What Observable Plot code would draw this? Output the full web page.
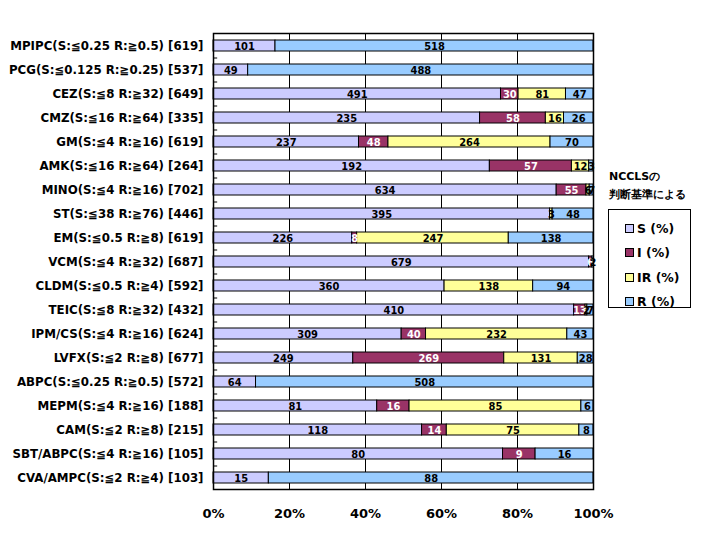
<!DOCTYPE html>
<html>
<head>
<meta charset="utf-8">
<script src="https://cdn.jsdelivr.net/npm/d3@7"></script>
<script src="https://cdn.jsdelivr.net/npm/@observablehq/plot@0.6"></script>
<style>
  body { margin: 0; background: #fff; }
  #wrap { position: relative; width: 715px; height: 534px; }
  #legend { position: absolute; left: 608px; top: 168px; font-family: "DejaVu Sans", sans-serif; font-weight: bold; }
  #legend .title { font-size: 11px; line-height: 18px; margin-left: 1px; }
  #legend .box { border: 1px solid #000; width: 83px; height: 99px; margin-top: 5px; box-sizing: border-box; padding: 6px 0 0 16px; }
  #legend .item { display: flex; align-items: center; height: 24.5px; font-size: 12.5px; }
  #legend .sw { width: 7px; height: 7px; border: 1px solid #000; margin-right: 3px; }
</style>
</head>
<body>
<div id="wrap">
  <div id="chart"></div>
  <div id="legend"></div>
</div>
<script>
const categories = [
  "MPIPC(S:≦0.25 R:≧0.5) [619]",
  "PCG(S:≦0.125 R:≧0.25) [537]",
  "CEZ(S:≦8 R:≧32) [649]",
  "CMZ(S:≦16 R:≧64) [335]",
  "GM(S:≦4 R:≧16) [619]",
  "AMK(S:≦16 R:≧64) [264]",
  "MINO(S:≦4 R:≧16) [702]",
  "ST(S:≦38 R:≧76) [446]",
  "EM(S:≦0.5 R:≧8) [619]",
  "VCM(S:≦4 R:≧32) [687]",
  "CLDM(S:≦0.5 R:≧4) [592]",
  "TEIC(S:≦8 R:≧32) [432]",
  "IPM/CS(S:≦4 R:≧16) [624]",
  "LVFX(S:≦2 R:≧8) [677]",
  "ABPC(S:≦0.25 R:≧0.5) [572]",
  "MEPM(S:≦4 R:≧16) [188]",
  "CAM(S:≦2 R:≧8) [215]",
  "SBT/ABPC(S:≦4 R:≧16) [105]",
  "CVA/AMPC(S:≦2 R:≧4) [103]"
];
const S  = [101, 49, 491, 235, 237, 192, 634, 395, 226, 679, 360, 410, 309, 249, 64, 81, 118, 80, 15];
const I  = [0, 0, 30, 58, 48, 57, 55, 0, 8, 6, 0, 13, 40, 269, 0, 16, 14, 9, 0];
const IR = [0, 0, 81, 16, 264, 12, 6, 3, 247, 0, 138, 2, 232, 131, 0, 85, 75, 0, 0];
const R  = [518, 488, 47, 26, 70, 3, 7, 48, 138, 2, 94, 7, 43, 28, 508, 6, 8, 16, 88];
const seriesNames = ["S", "I", "IR", "R"];
const legendLabels = ["S (%)", "I (%)", "IR (%)", "R (%)"];
const colors = ["#CCCCFF", "#993366", "#FFFF99", "#99CCFF"];
const xTicks = [0, 0.2, 0.4, 0.6, 0.8, 1];
const gridX = [0.2, 0.4, 0.6, 0.8];

const seriesValues = [S, I, IR, R];
const data = categories.flatMap((c, i) =>
  seriesNames.map((s, j) => ({cat: c, series: s, count: seriesValues[j][i]}))
);

const W = 715, H = 534, mT = 33, mB = 45, mL = 213, mR = 122;
const step = (H - mT - mB) / categories.length;

const chart = Plot.plot({
  width: W, height: H,
  marginTop: mT, marginBottom: mB, marginLeft: mL, marginRight: mR,
  style: {fontFamily: "DejaVu Sans, sans-serif", fontWeight: "bold", background: "white", color: "black"},
  x: {domain: [0, 1], label: null},
  y: {domain: categories, paddingInner: 0.56, paddingOuter: 0.28, label: null},
  color: {domain: seriesNames, range: colors},
  marks: [
    Plot.ruleX(gridX, {stroke: "black", strokeWidth: 1}),
    Plot.barX(data, {
      filter: d => d.count > 0,
      x: "count", y: "cat", fill: "series", stroke: "black", strokeWidth: 1,
      offset: "normalize", order: seriesNames
    }),
    Plot.text(data, Plot.stackX({
      filter: d => d.count > 0,
      x: "count", y: "cat", z: "series",
      offset: "normalize", order: seriesNames,
      text: "count",
      fill: d => d.series === "I" ? "white" : "black",
      fontFamily: "DejaVu Sans Condensed, DejaVu Sans, sans-serif",
      fontWeight: "bold", fontSize: 11
    })),
    Plot.ruleY(categories.slice(1), {y: d => d, x1: 0, x2: 0.011, dy: -step / 2, stroke: "black"}),
    Plot.frame({stroke: "black", strokeWidth: 1.5}),
    Plot.axisX({ticks: xTicks, tickFormat: d => Math.round(d * 100) + "%", tickSize: 0, tickPadding: 19, fontSize: 13, fontWeight: "bold", label: null}),
    Plot.axisY({tickSize: 0, tickPadding: 10, fontSize: 11.8, fontWeight: "bold", label: null})
  ]
});
document.getElementById("chart").appendChild(chart);

const legend = document.getElementById("legend");
legend.innerHTML = `<div class="title">NCCLSの<br>判断基準による</div>` +
  `<div class="box">` +
  legendLabels.map((l, i) => `<div class="item"><span class="sw" style="background:${colors[i]}"></span>${l}</div>`).join("") +
  `</div>`;
</script>
</body>
</html>
